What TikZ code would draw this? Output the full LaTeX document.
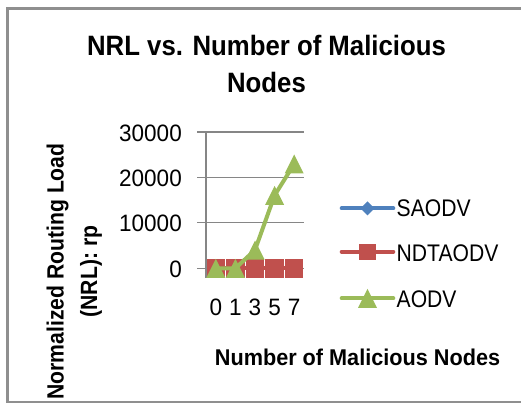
\documentclass[tikz,border=0pt]{standalone}
\usepackage{fontspec}
\usetikzlibrary{calc}
\setmainfont{Liberation Sans}
\newfontfamily\titlefont{Liberation Sans}[FakeStretch=0.92]
\newfontfamily\tickfont{Liberation Sans}[FakeStretch=0.95]
\newfontfamily\legfont{Liberation Sans}[FakeStretch=0.88]
\newfontfamily\xaxfont{Liberation Sans}[FakeStretch=0.95]
\newfontfamily\yaxfont{Liberation Sans}[FakeStretch=0.9]
\definecolor{saodvblue}{HTML}{4F81BD}
\definecolor{ndtred}{HTML}{C0504D}
\definecolor{aodvgreen}{HTML}{9BBB59}
\definecolor{gridgray}{HTML}{868686}
\definecolor{framegray}{HTML}{8F8F8F}
\begin{document}
\begin{tikzpicture}[x=1pt,y=-1pt,
  series/.style={line width=4pt, line cap=round, line join=round},
  gridline/.style={gridgray, line width=1.5pt},
  lbl/.style={inner sep=0pt, text=black},
  ticklbl/.style={lbl, font=\tickfont\fontsize{23.7}{28}\selectfont},
  leglbl/.style={lbl, anchor=west, font=\legfont\fontsize{24}{28}\selectfont},
  dmmark/.pic={\fill (-7,0) -- (0,-7) -- (7,0) -- (0,7) -- cycle;},
  sqmark/.pic={\fill (-9.2,-9.6) rectangle (9.2,9.6);},
  legsq/.pic={\fill (-8.5,-8) rectangle (8.5,8);},
  trimark/.pic={\fill (-9.5,9.5) -- (0,-9.5) -- (9.5,9.5) -- cycle;},
]
\useasboundingbox (0,0) rectangle (521,403);
\clip (0,0) rectangle (521,403);

% chart frame (its right side lies beyond the page)
\draw[framegray, line width=2.6pt] (7.2,8.7) rectangle (560,401.8);

% title
\node[lbl, anchor=north, align=center, font=\titlefont\bfseries\fontsize{28}{37}\selectfont]
  (title) at (266.5,34.6) {NRL vs. Number of Malicious\\Nodes};

% gridlines and value axis
\draw[gridline] (197,132) -- (304,132);
\draw[gridline] (197,177.3) -- (304,177.3);
\draw[gridline] (197,222.7) -- (304,222.7);
\draw[gridline] (197,268.3) -- (304,268.3);
\draw[gridline] (206,132) -- (206,278);

% value labels
\node[ticklbl, anchor=east] (v30) at (182,133.5) {30000};
\node[ticklbl, anchor=east] (v20) at (182,178.5) {20000};
\node[ticklbl, anchor=east] (v10) at (182,223.5) {10000};
\node[ticklbl, anchor=east] (v0)  at (182,269.5) {0};

% category labels
\node[ticklbl, anchor=base] (c0) at (215.8,315) {0};
\node[ticklbl, anchor=base] (c1) at (235.4,315) {1};
\node[ticklbl, anchor=base] (c3) at (255,315) {3};
\node[ticklbl, anchor=base] (c5) at (274.6,315) {5};
\node[ticklbl, anchor=base] (c7) at (294.2,315) {7};

% data points
\coordinate (s0) at (215.8,268.3);
\coordinate (s1) at (235.4,268.3);
\coordinate (s3) at (255,268.3);
\coordinate (s5) at (274.6,268.3);
\coordinate (s7) at (294.2,268.3);
\coordinate (n0) at (215.8,268.3);
\coordinate (n1) at (235.4,268.3);
\coordinate (n3) at (255,268.3);
\coordinate (n5) at (274.6,268.3);
\coordinate (n7) at (294.2,268.3);
\coordinate (a0) at (215.8,268.3);
\coordinate (a1) at (235.4,268.3);
\coordinate (a3) at (255,250);
\coordinate (a5) at (274.6,195.3);
\coordinate (a7) at (294.2,164);

% SAODV
\draw[series, saodvblue] (s0) -- (s1) -- (s3) -- (s5) -- (s7);
\foreach \p in {s0,s1,s3,s5,s7} \pic[saodvblue] at (\p) {dmmark};
% NDTAODV
\draw[series, ndtred] (n0) -- (n1) -- (n3) -- (n5) -- (n7);
\foreach \p in {n0,n1,n3,n5,n7} \pic[ndtred] at (\p) {sqmark};
% AODV
\draw[series, aodvgreen] (a0) -- (a1) -- (a3) -- (a5) -- (a7);
\foreach \p in {a0,a1,a3,a5,a7} \pic[aodvgreen] at (\p) {trimark};

% legend
\coordinate (lsA) at (341.7,208.3); \coordinate (lsB) at (393.3,208.3);
\coordinate (lnA) at (341.7,251.7); \coordinate (lnB) at (393.3,251.7);
\coordinate (laA) at (341.7,298.3); \coordinate (laB) at (393.3,298.3);
\draw[series, saodvblue] (lsA) -- (lsB);
\pic[saodvblue] at ($(lsA)!0.5!(lsB)$) {dmmark};
\draw[series, ndtred] (lnA) -- (lnB);
\pic[ndtred] at ($(lnA)!0.5!(lnB)$) {legsq};
\draw[series, aodvgreen] (laA) -- (laB);
\pic[aodvgreen] at ($(laA)!0.5!(laB)$) {trimark};
\node[leglbl] (lgs) at (396.5,208) {SAODV};
\node[leglbl] (lgn) at (396.5,253.5) {NDTAODV};
\node[leglbl] (lga) at (396.5,299) {AODV};

% axis titles
\node[lbl, anchor=base, font=\xaxfont\bfseries\fontsize{22.8}{28}\selectfont]
  (xtitle) at (357.5,365.7) {Number of Malicious Nodes};
\node[lbl, rotate=90, anchor=north, align=center, font=\yaxfont\bfseries\fontsize{23.5}{33.5}\selectfont]
  (ytitle) at (46.4,271.5) {Normalized Routing Load\\(NRL): rp};
\end{tikzpicture}
\end{document}
